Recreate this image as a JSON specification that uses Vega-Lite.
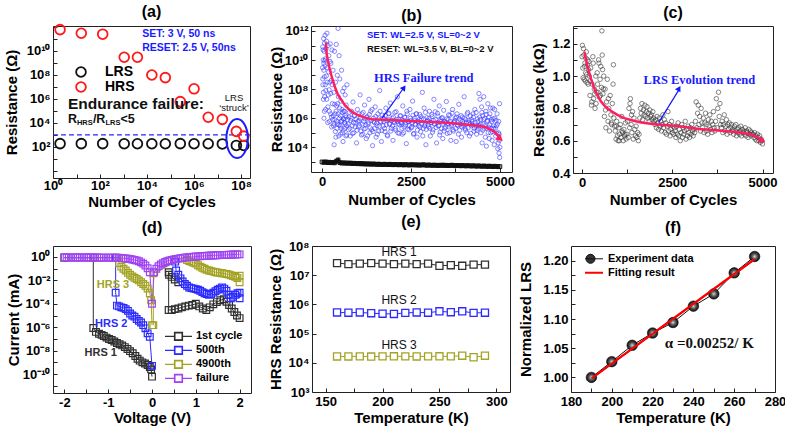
{
"$schema": "https://vega.github.io/schema/vega-lite/v6.json",
"padding": {"left": 3, "top": 3, "right": 0, "bottom": 0},
"spacing": 3,
"resolve": {"scale": {"color": "independent", "stroke": "independent"}, "legend": {"color": "independent", "stroke": "independent"}},
"config": {
  "font": "Liberation Sans",
  "view": {"stroke": "#222222", "strokeWidth": 1},
  "axis": {"domain": false, "grid": false, "tickSize": -4, "tickColor": "#222222", "tickWidth": 1, "labelPadding": 7, "labelFont": "Liberation Sans", "labelFontSize": 13, "labelFontWeight": "bold", "labelColor": "#000000", "labelFlush": false, "labelOverlap": false, "titleFont": "Liberation Sans", "titleFontSize": 15, "titleFontWeight": "bold", "titleColor": "#000000", "titleBaseline": "middle"},
  "title": {"font": "Liberation Sans", "fontSize": 16, "fontWeight": "bold", "color": "#000000", "baseline": "alphabetic"},
  "legend": {"labelFont": "Liberation Sans", "labelFontWeight": "bold", "labelColor": "#000000", "padding": 0, "rowPadding": 1, "titlePadding": 0}
},
"vconcat": [
{"hconcat": [
{
 "title": {"text": "(a)", "offset": 1},
 "width": 197, "height": 152,
 "encoding": {
  "x": {"field": "x", "type": "quantitative", "scale": {"type": "log", "domain": [1, 2.4e8], "nice": false},
        "axis": {"title": "Number of Cycles", "titleY": 23, "labelPadding": 5, "values": [1,10,100,1000,10000,100000,1000000,10000000,100000000],
                 "labelExpr": "round(log(datum.value)/LN10) % 2 == 0 ? '10' + replace(replace(replace(replace(replace(replace(replace(replace(replace(replace(replace('' + round(log(datum.value) / LN10), '-', '⁻'), '0', '⁰'), '1', '¹'), '2', '²'), '3', '³'), '4', '⁴'), '5', '⁵'), '6', '⁶'), '7', '⁷'), '8', '⁸'), '9', '⁹') : ''"}},
  "y": {"field": "y", "type": "quantitative", "scale": {"type": "log", "domain": [0.26, 1.2e12], "nice": false},
        "axis": {"title": "Resistance (Ω)", "titleX": -42, "values": [1,10,100,1000,10000,100000,1000000,10000000,100000000,1000000000,10000000000,100000000000,1000000000000],
                 "labelExpr": "(datum.value > 50 && datum.value < 2e10 && round(log(datum.value)/LN10) % 2 == 0) ? '10' + replace(replace(replace(replace(replace(replace(replace(replace(replace(replace(replace('' + round(log(datum.value) / LN10), '-', '⁻'), '0', '⁰'), '1', '¹'), '2', '²'), '3', '³'), '4', '⁴'), '5', '⁵'), '6', '⁶'), '7', '⁷'), '8', '⁸'), '9', '⁹') : ''"}}
 },
 "layer": [
  {"data": {"values": [{"x": 1, "y": 1000}, {"x": 2.4e8, "y": 1000}]},
   "mark": {"type": "line", "color": "#2a2aff", "strokeDash": [5, 3], "strokeWidth": 1.2}},
  {"data": {"values": [
    {"s":"LRS","x":2,"y":190},{"s":"LRS","x":16,"y":190},{"s":"LRS","x":130,"y":190},{"s":"LRS","x":1070,"y":185},{"s":"LRS","x":3900,"y":185},{"s":"LRS","x":16000,"y":185},{"s":"LRS","x":60000,"y":185},{"s":"LRS","x":260000,"y":190},{"s":"LRS","x":1000000,"y":185},{"s":"LRS","x":4000000,"y":185},{"s":"LRS","x":16000000,"y":180},{"s":"LRS","x":63000000,"y":135},{"s":"LRS","x":130000000,"y":135},
    {"s":"HRS","x":2,"y":6e11},{"s":"HRS","x":16,"y":3e11},{"s":"HRS","x":130,"y":2.5e11},{"s":"HRS","x":1070,"y":3e9},{"s":"HRS","x":3900,"y":3e9},{"s":"HRS","x":16000,"y":1e8},{"s":"HRS","x":60000,"y":6e7},{"s":"HRS","x":260000,"y":6e5},{"s":"HRS","x":1000000,"y":7e6},{"s":"HRS","x":4000000,"y":3e4},{"s":"HRS","x":16000000,"y":2e4},{"s":"HRS","x":63000000,"y":2000},{"s":"HRS","x":130000000,"y":800}]},
   "mark": {"type": "point", "shape": "circle", "filled": false, "size": 95, "strokeWidth": 1.8, "opacity": 1},
   "encoding": {"color": {"field": "s", "type": "nominal", "scale": {"domain": ["LRS", "HRS"], "range": ["#111111", "#ff1a1a"]},
     "legend": {"orient": "none", "legendX": 21, "legendY": 39, "title": null, "labelFontSize": 14, "clipHeight": 14, "symbolSize": 95, "symbolStrokeWidth": 1.8, "labelOffset": 17}}}},
  {"data": {"values": [{"x": 6.8e7, "y": 500}]},
   "mark": {"type": "point", "shape": "M0,-1A0.55,1,0,1,1,0,1A0.55,1,0,1,1,0,-1Z", "size": 1521, "filled": false, "color": "#1c1cff", "strokeWidth": 2, "opacity": 1}},
  {"data": {"values": [{"x": 6200, "y": 2.6e11, "t": "SET: 3 V, 50 ns"}, {"x": 6200, "y": 1.8e10, "t": "RESET: 2.5 V, 50ns"}]},
   "mark": {"type": "text", "align": "left", "baseline": "middle", "fontSize": 10.5, "fontWeight": "bold", "color": "#1a1aff"},
   "encoding": {"text": {"field": "t"}}},
  {"data": {"values": [{"x": 4.3, "y": 3.8e5, "t": "Endurance failure:"}]},
   "mark": {"type": "text", "align": "left", "baseline": "middle", "fontSize": 15.5, "fontWeight": "bold", "color": "#111111"},
   "encoding": {"text": {"field": "t"}}},
  {"data": {"values": [{"x": 4.3, "y": 2.1e4}]},
   "layer": [
    {"mark": {"type": "text", "align": "left", "baseline": "middle", "fontSize": 12.5, "fontWeight": "bold", "color": "#111111"}, "encoding": {"text": {"value": "R"}}},
    {"mark": {"type": "text", "align": "left", "baseline": "middle", "fontSize": 7.5, "fontWeight": "bold", "color": "#111111", "dx": 9, "dy": 4}, "encoding": {"text": {"value": "HRS"}}},
    {"mark": {"type": "text", "align": "left", "baseline": "middle", "fontSize": 12.5, "fontWeight": "bold", "color": "#111111", "dx": 25}, "encoding": {"text": {"value": "/R"}}},
    {"mark": {"type": "text", "align": "left", "baseline": "middle", "fontSize": 7.5, "fontWeight": "bold", "color": "#111111", "dx": 37.5, "dy": 4}, "encoding": {"text": {"value": "LRS"}}},
    {"mark": {"type": "text", "align": "left", "baseline": "middle", "fontSize": 12.5, "fontWeight": "bold", "color": "#111111", "dx": 52.5}, "encoding": {"text": {"value": "<5"}}}
   ]},
  {"data": {"values": [{"x": 5e7, "y": 1.2e6, "t": "LRS"}, {"x": 5e7, "y": 1.8e5, "t": "‘struck’"}]},
   "mark": {"type": "text", "align": "center", "baseline": "middle", "fontSize": 9.5, "color": "#111111"},
   "encoding": {"text": {"field": "t"}}}
 ]
},
{
 "title": {"text": "(b)", "offset": 1},
 "width": 201, "height": 146,
 "encoding": {
  "x": {"field": "x", "type": "quantitative", "scale": {"domain": [-310, 5340], "nice": false, "zero": false},
        "axis": {"title": "Number of Cycles", "titleY": 27, "values": [0, 1250, 2500, 3750, 5000], "format": "d", "labelExpr": "datum.value % 2500 == 0 ? datum.label : ''"}},
  "y": {"field": "y", "type": "quantitative", "scale": {"type": "log", "domain": [200, 2.2e12], "nice": false},
        "axis": {"title": "Resistance (Ω)", "titleX": -35, "values": [1000,10000,100000,1000000,10000000,100000000,1000000000,10000000000,100000000000,1000000000000],
                 "labelExpr": "(datum.value > 5000 && round(log(datum.value)/LN10) % 2 == 0) ? '10' + replace(replace(replace(replace(replace(replace(replace(replace(replace(replace(replace('' + round(log(datum.value) / LN10), '-', '⁻'), '0', '⁰'), '1', '¹'), '2', '²'), '3', '³'), '4', '⁴'), '5', '⁵'), '6', '⁶'), '7', '⁷'), '8', '⁸'), '9', '⁹') : ''"}}
 },
 "layer": [
  {"data": {"values": [
{"x":15,"y":3e9},{"x":20,"y":8e10},{"x":25,"y":2e8},{"x":30,"y":5e10},{"x":35,"y":1e10},{"x":40,"y":6e7},{"x":45,"y":3e11},{"x":50,"y":2e9},{"x":55,"y":1e6},{"x":60,"y":4e10},{"x":65,"y":7e8},{"x":70,"y":1.5e11},{"x":75,"y":3e7},{"x":80,"y":9e9},{"x":85,"y":5e11},{"x":90,"y":2e8},{"x":95,"y":1.2e10},{"x":100,"y":4e6},{"x":110,"y":6e10},{"x":120,"y":8e8},{"x":130,"y":2e7},{"x":140,"y":7e11},{"x":150,"y":3e9},{"x":160,"y":5e5},{"x":170,"y":1e11},{"x":180,"y":4e7},{"x":190,"y":2e10},{"x":200,"y":9e7},{"x":210,"y":6e5},{"x":220,"y":3e8},{"x":230,"y":1.3e11},{"x":240,"y":2e6},{"x":250,"y":6e9},{"x":260,"y":4e8},{"x":270,"y":2.5e5},{"x":280,"y":5e10},{"x":290,"y":1e7},{"x":300,"y":8e5},
{"x":22,"y":5e8},{"x":38,"y":2e7},{"x":52,"y":6e9},{"x":68,"y":3e6},{"x":88,"y":4e9},{"x":105,"y":8e7},{"x":125,"y":2e11},{"x":145,"y":3e8},{"x":165,"y":6e6},{"x":185,"y":1.5e9},{"x":205,"y":3e6},{"x":225,"y":8e9},{"x":245,"y":5e7},{"x":265,"y":1.2e6},{"x":285,"y":2e8},
{"x":310,"y":2e9},{"x":320,"y":3e5},{"x":330,"y":6e7},{"x":340,"y":1.5e4},{"x":350,"y":4e10},{"x":360,"y":8e5},{"x":370,"y":2e6},{"x":380,"y":3e8},{"x":390,"y":5e4},{"x":400,"y":1.2e11},{"x":410,"y":7e6},{"x":420,"y":2e5},{"x":430,"y":9e8},{"x":440,"y":4e5},{"x":450,"y":1.5e12},{"x":460,"y":3e7},{"x":470,"y":6e4},{"x":480,"y":2e10},{"x":490,"y":1e6},{"x":500,"y":5e8},{"x":510,"y":3e5},{"x":520,"y":8e4},{"x":530,"y":1.5e7},{"x":540,"y":6e5},{"x":550,"y":2e9},{"x":560,"y":4e6},{"x":570,"y":1e5},{"x":580,"y":7e7},{"x":590,"y":2.5e4},{"x":600,"y":9e5},{"x":610,"y":3e6},{"x":620,"y":1.2e8},{"x":630,"y":5e5},{"x":640,"y":2e5},{"x":650,"y":4e7},{"x":660,"y":1.5e6},{"x":670,"y":6e4},{"x":680,"y":8e6},{"x":690,"y":3e5},{"x":700,"y":2e8},
{"x":315,"y":1.5e6},{"x":335,"y":4e5},{"x":355,"y":9e6},{"x":375,"y":1.2e5},{"x":395,"y":3e6},{"x":415,"y":6e5},{"x":435,"y":1e7},{"x":455,"y":2e6},{"x":475,"y":3.5e5},{"x":495,"y":5e6},{"x":515,"y":1.5e6},{"x":535,"y":2e5},{"x":555,"y":7e5},{"x":575,"y":2.5e6},{"x":595,"y":1.5e5},{"x":615,"y":9e5},{"x":635,"y":3e6},{"x":655,"y":4e5},{"x":675,"y":1.2e6},{"x":695,"y":7e4},
{"x":720,"y":8e5},{"x":745,"y":1.6e5},{"x":770,"y":2.5e6},{"x":795,"y":6e4},{"x":820,"y":1e6},{"x":845,"y":3e5},{"x":870,"y":1.3e7},{"x":895,"y":1e5},{"x":920,"y":1.6e6},{"x":945,"y":5e5},
{"x":970,"y":2e4},{"x":995,"y":4e6},{"x":1020,"y":2.5e5},{"x":1045,"y":7e5},{"x":1070,"y":4e7},{"x":1095,"y":1.3e5},{"x":1120,"y":2e6},{"x":1145,"y":8e4},{"x":1170,"y":6e5},{"x":1195,"y":8e6},
{"x":1220,"y":2e5},{"x":1245,"y":4e4},{"x":1270,"y":1.3e6},{"x":1295,"y":4e5},{"x":1320,"y":2e7},{"x":1345,"y":1e5},{"x":1370,"y":3e6},{"x":1395,"y":1.6e5},{"x":1420,"y":1.3e4},{"x":1445,"y":1e6},
{"x":1470,"y":5e5},{"x":1495,"y":6e6},{"x":1520,"y":5e4},{"x":1545,"y":3e5},{"x":1570,"y":2e6},{"x":1595,"y":1.3e5},{"x":1620,"y":8e7},{"x":1645,"y":6e5},{"x":1670,"y":2.5e4},{"x":1695,"y":1.6e6},
{"x":1720,"y":3e5},{"x":1745,"y":9e5},{"x":1770,"y":1.2e5},{"x":1795,"y":5e6},{"x":1820,"y":7e5},{"x":1845,"y":6e4},{"x":1870,"y":2e6},{"x":1895,"y":4e5},{"x":1920,"y":1.1e7},{"x":1945,"y":2e5},
{"x":1970,"y":1e6},{"x":1995,"y":3e4},{"x":2020,"y":6e5},{"x":2045,"y":2.5e6},{"x":2070,"y":1.5e5},{"x":2095,"y":8e5},{"x":2120,"y":3e7},{"x":2145,"y":4e5},{"x":2170,"y":9e4},{"x":2195,"y":1.4e6},
{"x":2220,"y":5e5},{"x":2245,"y":2e5},{"x":2270,"y":7e6},{"x":2295,"y":1e5},{"x":2320,"y":1.2e6},{"x":2345,"y":3.5e5},{"x":2370,"y":1.8e4},{"x":2395,"y":2e6},{"x":2420,"y":6e5},{"x":2445,"y":1.6e5},
{"x":2470,"y":4e6},{"x":2495,"y":7e5},{"x":2520,"y":2.5e5},{"x":2545,"y":1.5e7},{"x":2570,"y":8e4},{"x":2595,"y":1e6},{"x":2620,"y":4e5},{"x":2645,"y":2e6},{"x":2670,"y":5e4},{"x":2695,"y":6e5},
{"x":2720,"y":3e5},{"x":2745,"y":1.8e6},{"x":2770,"y":1.2e5},{"x":2795,"y":9e5},{"x":2820,"y":6e7},{"x":2845,"y":2e5},{"x":2870,"y":5e6},{"x":2895,"y":4e5},{"x":2920,"y":1.5e4},{"x":2945,"y":1.1e6},
{"x":2970,"y":7e5},{"x":2995,"y":2.5e5},{"x":3020,"y":3e6},{"x":3045,"y":6e4},{"x":3070,"y":5e5},{"x":3095,"y":1.3e6},{"x":3120,"y":1.6e5},{"x":3145,"y":2e7},{"x":3170,"y":4e5},{"x":3195,"y":8e5},
{"x":3220,"y":2e4},{"x":3245,"y":2.2e6},{"x":3270,"y":3e5},{"x":3295,"y":7e6},{"x":3320,"y":1.1e5},{"x":3345,"y":6e5},{"x":3370,"y":1e6},{"x":3395,"y":4e4},{"x":3420,"y":3.5e6},{"x":3445,"y":2e5},
{"x":3470,"y":5e5},{"x":3495,"y":1.4e7},{"x":3520,"y":9e4},{"x":3545,"y":8e5},{"x":3570,"y":2.5e5},{"x":3595,"y":1.6e6},{"x":3620,"y":3e4},{"x":3645,"y":4e5},{"x":3670,"y":4e6},{"x":3695,"y":1.3e5},
{"x":3720,"y":6e5},{"x":3745,"y":1e6},{"x":3770,"y":2.5e4},{"x":3795,"y":2e6},{"x":3820,"y":3e5},{"x":3845,"y":9e6},{"x":3870,"y":1.5e5},{"x":3895,"y":7e5},{"x":3920,"y":5e4},{"x":3945,"y":1.2e6},
{"x":3970,"y":4e5},{"x":3995,"y":3e7},{"x":4020,"y":2e5},{"x":4045,"y":8e5},{"x":4070,"y":1e5},{"x":4095,"y":2.5e6},{"x":4120,"y":5e5},{"x":4145,"y":6e4},{"x":4170,"y":1.5e6},{"x":4195,"y":3e5},
{"x":4220,"y":6e5},{"x":4245,"y":2e6},{"x":4270,"y":1.3e5},{"x":4295,"y":4e6},{"x":4320,"y":3e5},{"x":4345,"y":8e4},{"x":4370,"y":9e5},{"x":4395,"y":2e5},
{"x":732,"y":4e5},{"x":757,"y":1.2e6},{"x":782,"y":2e5},{"x":807,"y":7e5},{"x":832,"y":3e6},{"x":857,"y":9e4},{"x":882,"y":5e5},{"x":907,"y":1.5e6},{"x":932,"y":2.5e5},{"x":957,"y":8e5},
{"x":982,"y":1.5e5},{"x":1007,"y":6e5},{"x":1032,"y":2e6},{"x":1057,"y":3e5},{"x":1082,"y":1e6},{"x":1107,"y":7e4},{"x":1132,"y":4e5},{"x":1157,"y":2.5e6},{"x":1182,"y":1.8e5},{"x":1207,"y":9e5},
{"x":1232,"y":3.5e5},{"x":1257,"y":1.1e6},{"x":1282,"y":6e4},{"x":1307,"y":5e5},{"x":1332,"y":1.8e6},{"x":1357,"y":2.2e5},{"x":1382,"y":7e5},{"x":1407,"y":4e6},{"x":1432,"y":1.2e5},{"x":1457,"y":6e5},
{"x":1482,"y":2e5},{"x":1507,"y":1.3e6},{"x":1532,"y":4.5e5},{"x":1557,"y":8e4},{"x":1582,"y":9e5},{"x":1607,"y":2.8e5},{"x":1632,"y":3e6},{"x":1657,"y":5.5e5},{"x":1682,"y":1.4e5},{"x":1707,"y":1e6},
{"x":1732,"y":6e5},{"x":1757,"y":2e5},{"x":1782,"y":1.6e6},{"x":1807,"y":3.5e5},{"x":1832,"y":7e4},{"x":1857,"y":8e5},{"x":1882,"y":2.2e6},{"x":1907,"y":4e5},{"x":1932,"y":1.3e5},{"x":1957,"y":7e5},
{"x":1982,"y":3e5},{"x":2007,"y":1.2e6},{"x":2032,"y":5e5},{"x":2057,"y":2e5},{"x":2082,"y":2.8e6},{"x":2107,"y":6e5},{"x":2132,"y":1e5},{"x":2157,"y":9e5},{"x":2182,"y":3.5e5},{"x":2207,"y":1.5e6},
{"x":2232,"y":4.5e5},{"x":2257,"y":8e4},{"x":2282,"y":7e5},{"x":2307,"y":2.5e5},{"x":2332,"y":1.1e6},{"x":2357,"y":5e5},{"x":2382,"y":3e6},{"x":2407,"y":1.8e5},{"x":2432,"y":6e5},{"x":2457,"y":3e5},
{"x":2482,"y":1e6},{"x":2507,"y":2.2e5},{"x":2532,"y":5e5},{"x":2557,"y":1.6e6},{"x":2582,"y":9e4},{"x":2607,"y":7e5},{"x":2632,"y":3.5e5},{"x":2657,"y":2e6},{"x":2682,"y":1.5e5},{"x":2707,"y":5.5e5},
{"x":2732,"y":8e5},{"x":2757,"y":2.5e5},{"x":2782,"y":1.3e6},{"x":2807,"y":4e5},{"x":2832,"y":6e4},{"x":2857,"y":9e5},{"x":2882,"y":3e5},{"x":2907,"y":2.5e6},{"x":2932,"y":1.7e5},{"x":2957,"y":6e5},
{"x":2982,"y":3.5e5},{"x":3007,"y":1e6},{"x":3032,"y":2e5},{"x":3057,"y":5e5},{"x":3082,"y":1.8e6},{"x":3107,"y":1.1e5},{"x":3132,"y":7e5},{"x":3157,"y":4e5},{"x":3182,"y":2.8e6},{"x":3207,"y":2.3e5},
{"x":3232,"y":5e5},{"x":3257,"y":1.4e6},{"x":3282,"y":3e5},{"x":3307,"y":7e4},{"x":3332,"y":8e5},{"x":3357,"y":2e5},{"x":3382,"y":1.1e6},{"x":3407,"y":4.5e5},{"x":3432,"y":1.3e5},{"x":3457,"y":6e5},
{"x":3482,"y":2.5e5},{"x":3507,"y":9e5},{"x":3532,"y":4e5},{"x":3557,"y":1.7e6},{"x":3582,"y":1e5},{"x":3607,"y":6e5},{"x":3632,"y":3e5},{"x":3657,"y":2.2e6},{"x":3682,"y":1.6e5},{"x":3707,"y":5e5},
{"x":3732,"y":7e5},{"x":3757,"y":2e5},{"x":3782,"y":1.2e6},{"x":3807,"y":3.5e5},{"x":3832,"y":8e4},{"x":3857,"y":9e5},{"x":3882,"y":4e5},{"x":3907,"y":1.5e6},{"x":3932,"y":2.5e5},{"x":3957,"y":6e5},
{"x":3982,"y":3e5},{"x":4007,"y":1e6},{"x":4032,"y":1.5e5},{"x":4057,"y":5e5},{"x":4082,"y":2e6},{"x":4107,"y":2.2e5},{"x":4132,"y":7e5},{"x":4157,"y":4e5},{"x":4182,"y":9e4},{"x":4207,"y":8e5},
{"x":4232,"y":3.5e5},{"x":4257,"y":1.2e6},{"x":4282,"y":2e5},{"x":4307,"y":5e5},{"x":4332,"y":2.5e6},{"x":4357,"y":1.5e5},{"x":4382,"y":6e5},{"x":4407,"y":3e5},
{"x":4410,"y":5e7},{"x":4425,"y":3e5},{"x":4440,"y":2e7},{"x":4455,"y":8e5},{"x":4470,"y":1e5},{"x":4485,"y":6e6},{"x":4500,"y":2e4},{"x":4515,"y":1.5e6},{"x":4530,"y":4e5},{"x":4545,"y":3e7},{"x":4560,"y":2e5},{"x":4575,"y":1e6},{"x":4590,"y":5e4},{"x":4605,"y":3e6},{"x":4620,"y":1.2e4},{"x":4640,"y":6e5},{"x":4660,"y":1e7},{"x":4680,"y":2.5e5},{"x":4700,"y":4e4},{"x":4720,"y":2e6},{"x":4740,"y":1e5},{"x":4760,"y":8e5},{"x":4780,"y":3e4},{"x":4800,"y":5e6},{"x":4820,"y":2e5},{"x":4840,"y":1.5e4},{"x":4860,"y":1e6},{"x":4880,"y":6e4},{"x":4900,"y":3e5},{"x":4920,"y":2e6},{"x":4940,"y":8e3},{"x":4960,"y":1e5},{"x":4975,"y":4e3},{"x":4985,"y":3e4},{"x":4995,"y":2e3},{"x":5000,"y":1e4},{"x":4990,"y":1e7},
{"x":4432,"y":1.2e6},{"x":4462,"y":4e5},{"x":4492,"y":2.5e6},{"x":4522,"y":1.5e5},{"x":4552,"y":8e5},{"x":4582,"y":3e5},{"x":4612,"y":1.8e6},{"x":4632,"y":2e5},{"x":4652,"y":7e5},{"x":4672,"y":1e5},{"x":4692,"y":1.2e6},{"x":4712,"y":3.5e5},{"x":4732,"y":5e6},{"x":4752,"y":2e5},{"x":4772,"y":6e5},{"x":4792,"y":1.2e5},{"x":4812,"y":9e5},{"x":4832,"y":3e5},{"x":4852,"y":4e6},{"x":4872,"y":2e5},{"x":4892,"y":7e5},{"x":4912,"y":9e4},{"x":4932,"y":4e5},{"x":4952,"y":2e4},{"x":4968,"y":6e5},{"x":4980,"y":8e4}
   ]},
   "mark": {"type": "point", "shape": "circle", "filled": false, "size": 18, "strokeWidth": 0.7, "color": "#3a3aff", "opacity": 0.85}},
  {"data": {"name": "lrsb", "values": [
{"x":0,"y":980},{"x":50,"y":920},{"x":100,"y":1000},{"x":150,"y":890},{"x":200,"y":940},{"x":250,"y":870},{"x":300,"y":910},{"x":350,"y":850},{"x":400,"y":1100},{"x":450,"y":1350},{"x":500,"y":880},{"x":550,"y":820},{"x":600,"y":860},{"x":650,"y":800},{"x":700,"y":840},{"x":750,"y":790},{"x":800,"y":830},{"x":850,"y":760},{"x":900,"y":800},{"x":950,"y":770},{"x":1000,"y":740},{"x":1050,"y":780},{"x":1100,"y":720},{"x":1150,"y":760},{"x":1200,"y":700},{"x":1250,"y":740},{"x":1300,"y":690},{"x":1350,"y":730},{"x":1400,"y":680},{"x":1450,"y":720},{"x":1500,"y":690},{"x":1550,"y":660},{"x":1600,"y":700},{"x":1650,"y":670},{"x":1700,"y":650},{"x":1750,"y":690},{"x":1800,"y":660},{"x":1850,"y":640},{"x":1900,"y":680},{"x":1950,"y":650},{"x":2000,"y":630},{"x":2050,"y":670},{"x":2100,"y":640},{"x":2150,"y":620},{"x":2200,"y":660},{"x":2250,"y":630},{"x":2300,"y":610},{"x":2350,"y":650},{"x":2400,"y":620},{"x":2450,"y":600},{"x":2500,"y":640},{"x":2550,"y":610},{"x":2600,"y":630},{"x":2650,"y":600},{"x":2700,"y":620},{"x":2750,"y":590},{"x":2800,"y":610},{"x":2850,"y":630},{"x":2900,"y":600},{"x":2950,"y":580},{"x":3000,"y":610},{"x":3050,"y":590},{"x":3100,"y":570},{"x":3150,"y":600},{"x":3200,"y":580},{"x":3250,"y":560},{"x":3300,"y":590},{"x":3350,"y":570},{"x":3400,"y":600},{"x":3450,"y":560},{"x":3500,"y":580},{"x":3550,"y":550},{"x":3600,"y":570},{"x":3650,"y":590},{"x":3700,"y":560},{"x":3750,"y":540},{"x":3800,"y":570},{"x":3850,"y":550},{"x":3900,"y":530},{"x":3950,"y":560},{"x":4000,"y":540},{"x":4050,"y":520},{"x":4100,"y":550},{"x":4150,"y":530},{"x":4200,"y":510},{"x":4250,"y":540},{"x":4300,"y":520},{"x":4350,"y":500},{"x":4400,"y":530},{"x":4450,"y":510},{"x":4500,"y":490},{"x":4550,"y":520},{"x":4600,"y":500},{"x":4650,"y":480},{"x":4700,"y":510},{"x":4750,"y":490},{"x":4800,"y":470},{"x":4850,"y":500},{"x":4900,"y":480},{"x":4950,"y":460},{"x":5000,"y":470}
   ]},
   "mark": {"type": "line", "color": "#111111", "strokeWidth": 3.5}},
  {"data": {"name": "lrsb"},
   "mark": {"type": "point", "shape": "square", "filled": false, "size": 14, "strokeWidth": 1, "color": "#111111", "opacity": 1}},
  {"data": {"values": [
{"x":112,"y":1.6e11},{"x":131,"y":2.5e10},{"x":180,"y":6e9},{"x":225,"y":1.9e9},{"x":290,"y":5e8},{"x":365,"y":1.35e8},{"x":450,"y":4e7},{"x":553,"y":1.7e7},{"x":640,"y":8e6},{"x":740,"y":4.5e6},{"x":870,"y":2.5e6},{"x":1020,"y":1.6e6},{"x":1200,"y":1.1e6},{"x":1396,"y":8.5e5},{"x":1770,"y":7.8e5},{"x":2331,"y":6.8e5},{"x":2900,"y":5.8e5},{"x":3400,"y":5e5},{"x":3736,"y":4.3e5},{"x":4100,"y":3.6e5},{"x":4400,"y":3e5},{"x":4579,"y":2.5e5},{"x":4750,"y":1.6e5},{"x":4860,"y":1.1e5},{"x":4950,"y":6e4},{"x":4990,"y":4.5e4}
   ]},
   "mark": {"type": "line", "color": "#ff1f5e", "strokeWidth": 2.5}},
  {"data": {"values": [{"x": 5010, "y": 3.8e4}]},
   "mark": {"type": "point", "shape": "triangle-up", "angle": 130, "size": 60, "filled": true, "color": "#ff1f5e", "opacity": 1}},
  {"data": {"values": [{"x": 1685, "y": 1e6}, {"x": 2290, "y": 1.15e8}]},
   "mark": {"type": "line", "color": "#1515ff", "strokeWidth": 1.2}},
  {"data": {"values": [{"x": 2303, "y": 1.26e8}]},
   "mark": {"type": "point", "shape": "triangle-up", "angle": 35, "size": 40, "filled": true, "color": "#1515ff", "opacity": 1}},
  {"data": {"values": [{"x": 1264, "y": 5.4e11, "t": "SET: WL=2.5 V, SL=0~2 V"}]},
   "mark": {"type": "text", "align": "left", "baseline": "middle", "fontSize": 9.5, "fontWeight": "bold", "color": "#1a1aff"},
   "encoding": {"text": {"field": "t"}}},
  {"data": {"values": [{"x": 1264, "y": 5.9e10, "t": "RESET: WL=3.5 V, BL=0~2 V"}]},
   "mark": {"type": "text", "align": "left", "baseline": "middle", "fontSize": 9.5, "fontWeight": "bold", "color": "#111111"},
   "encoding": {"text": {"field": "t"}}},
  {"data": {"values": [{"x": 1461, "y": 6.3e8, "t": "HRS Failure trend"}]},
   "mark": {"type": "text", "align": "left", "baseline": "middle", "fontSize": 12.5, "fontWeight": "bold", "font": "Liberation Serif", "color": "#1a1aff"},
   "encoding": {"text": {"field": "t"}}}
 ]
},
{
 "title": {"text": "(c)", "offset": 1},
 "width": 200, "height": 147,
 "encoding": {
  "x": {"field": "x", "type": "quantitative", "scale": {"domain": [-250, 5290], "nice": false, "zero": false},
        "axis": {"title": "Number of Cycles", "titleY": 26, "values": [0, 1250, 2500, 3750, 5000], "format": "d", "labelExpr": "datum.value % 2500 == 0 ? datum.label : ''"}},
  "y": {"field": "y", "type": "quantitative", "scale": {"domain": [0.4, 1.31], "nice": false, "zero": false},
        "axis": {"title": "Resistance (kΩ)", "titleX": -35, "values": [0.4,0.5,0.6,0.7,0.8,0.9,1.0,1.1,1.2,1.3], "labelExpr": "round(datum.value*10) % 2 == 0 ? format(datum.value, '.1f') : ''"}}
 },
 "layer": [
  {"data": {"values": [
{"x":0,"y":1.12},{"x":20,"y":1.05},{"x":40,"y":1.17},{"x":60,"y":0.98},{"x":80,"y":1.08},{"x":100,"y":1.02},{"x":120,"y":1.15},{"x":140,"y":0.96},{"x":160,"y":1.10},{"x":180,"y":1.04},{"x":200,"y":1.00},
{"x":10,"y":1.19},{"x":30,"y":0.99},{"x":50,"y":1.13},{"x":70,"y":1.06},{"x":90,"y":0.97},{"x":110,"y":1.11},{"x":130,"y":1.01},{"x":150,"y":1.07},{"x":170,"y":0.95},{"x":190,"y":1.09},
{"x":220,"y":0.88},{"x":240,"y":1.05},{"x":260,"y":0.82},{"x":280,"y":0.95},{"x":300,"y":1.12},{"x":320,"y":0.86},{"x":340,"y":0.92},{"x":360,"y":0.80},{"x":380,"y":1.0},{"x":400,"y":0.9},{"x":230,"y":0.97},{"x":270,"y":0.84},{"x":310,"y":1.08},{"x":350,"y":0.89},{"x":390,"y":0.83},
{"x":420,"y":1.02},{"x":440,"y":0.9},{"x":460,"y":1.1},{"x":480,"y":0.87},{"x":500,"y":0.98},{"x":520,"y":1.06},{"x":540,"y":0.93},{"x":560,"y":1.13},{"x":580,"y":0.89},{"x":600,"y":1.0},{"x":430,"y":0.95},{"x":470,"y":1.08},{"x":510,"y":0.88},{"x":550,"y":1.28},{"x":570,"y":1.04},{"x":590,"y":0.92},
{"x":620,"y":0.75},{"x":640,"y":0.92},{"x":660,"y":0.68},{"x":680,"y":0.84},{"x":700,"y":0.98},{"x":720,"y":0.72},{"x":740,"y":0.8},{"x":760,"y":0.66},{"x":780,"y":0.88},{"x":800,"y":0.76},{"x":820,"y":0.7},{"x":840,"y":0.83},{"x":860,"y":0.95},{"x":880,"y":0.74},{"x":900,"y":0.69},{"x":650,"y":0.79},{"x":730,"y":0.86},{"x":810,"y":0.71},{"x":870,"y":1.07},
{"x":920,"y":0.66},{"x":940,"y":0.61},{"x":960,"y":0.72},{"x":980,"y":0.63},{"x":1000,"y":0.6},{"x":1020,"y":0.68},{"x":1040,"y":0.64},{"x":1060,"y":0.7},{"x":1080,"y":0.62},{"x":1100,"y":0.75},{"x":1120,"y":0.65},{"x":1140,"y":0.6},{"x":1160,"y":0.67},{"x":1180,"y":0.63},{"x":1200,"y":0.71},{"x":1220,"y":0.61},{"x":950,"y":0.69},{"x":1030,"y":0.6},{"x":1110,"y":0.66},{"x":1190,"y":0.64},
{"x":1240,"y":0.64},{"x":1260,"y":0.72},{"x":1280,"y":0.62},{"x":1300,"y":0.8},{"x":1320,"y":0.68},{"x":1340,"y":0.86},{"x":1360,"y":0.7},{"x":1380,"y":0.65},{"x":1400,"y":0.78},{"x":1420,"y":0.61},{"x":1440,"y":0.74},{"x":1460,"y":0.67},{"x":1480,"y":0.63},{"x":1500,"y":0.69},{"x":1330,"y":0.83},{"x":1370,"y":0.76},
{"x":1520,"y":0.62},{"x":1540,"y":0.65},{"x":1560,"y":0.6},{"x":1580,"y":0.64},
{"x":1600,"y":0.74},{"x":1620,"y":0.8},{"x":1640,"y":0.77},{"x":1660,"y":0.83},{"x":1680,"y":0.73},{"x":1700,"y":0.79},{"x":1720,"y":0.76},{"x":1740,"y":0.82},{"x":1760,"y":0.75},{"x":1780,"y":0.78},{"x":1800,"y":0.81},{"x":1820,"y":0.74},{"x":1840,"y":0.77},{"x":1860,"y":0.72},{"x":1880,"y":0.79},{"x":1900,"y":0.75},{"x":1920,"y":0.76},{"x":1940,"y":0.73},{"x":1960,"y":0.78},{"x":1980,"y":0.74},{"x":2000,"y":0.72},
{"x":2020,"y":0.7},{"x":2040,"y":0.73},{"x":2060,"y":0.68},{"x":2080,"y":0.75},{"x":2100,"y":0.71},{"x":2120,"y":0.67},{"x":2140,"y":0.74},{"x":2160,"y":0.69},{"x":2180,"y":0.72},{"x":2200,"y":0.66},{"x":2220,"y":0.7},{"x":2240,"y":0.76},{"x":2260,"y":0.68},{"x":2280,"y":0.73},{"x":2300,"y":0.65},{"x":2320,"y":0.71},{"x":2340,"y":0.64},{"x":2360,"y":0.69},{"x":2380,"y":0.78},{"x":2400,"y":0.66},{"x":2420,"y":0.7},{"x":2440,"y":0.63},{"x":2460,"y":0.67},{"x":2480,"y":0.72},{"x":2500,"y":0.65},{"x":2520,"y":0.69},{"x":2540,"y":0.64},{"x":2560,"y":0.68},
{"x":2580,"y":0.66},{"x":2600,"y":0.62},{"x":2620,"y":0.69},{"x":2640,"y":0.64},{"x":2660,"y":0.71},{"x":2680,"y":0.63},{"x":2700,"y":0.67},{"x":2720,"y":0.6},{"x":2740,"y":0.65},{"x":2760,"y":0.7},{"x":2780,"y":0.62},{"x":2800,"y":0.68},{"x":2820,"y":0.64},{"x":2840,"y":0.66},{"x":2860,"y":0.72},{"x":2880,"y":0.61},{"x":2900,"y":0.67},{"x":2920,"y":0.63},{"x":2940,"y":0.69},{"x":2960,"y":0.65},{"x":2980,"y":0.62},{"x":3000,"y":0.68},{"x":3020,"y":0.64},{"x":3040,"y":0.7},{"x":3060,"y":0.66},{"x":3080,"y":0.63},{"x":3100,"y":0.67},{"x":3120,"y":0.65},
{"x":3140,"y":0.72},{"x":3160,"y":0.84},{"x":3180,"y":0.68},{"x":3200,"y":0.77},{"x":3220,"y":0.82},{"x":3240,"y":0.7},{"x":3260,"y":0.75},{"x":3280,"y":0.66},{"x":3300,"y":0.8},{"x":3320,"y":0.71},
{"x":3340,"y":0.68},{"x":3360,"y":0.74},{"x":3380,"y":0.65},{"x":3400,"y":0.71},{"x":3420,"y":0.77},{"x":3440,"y":0.66},{"x":3460,"y":0.7},{"x":3480,"y":0.64},{"x":3500,"y":0.73},{"x":3520,"y":0.69},{"x":3540,"y":0.76},{"x":3560,"y":0.67},{"x":3580,"y":0.72},{"x":3600,"y":0.65},{"x":3620,"y":0.7},{"x":3640,"y":0.78},{"x":3660,"y":0.68},{"x":3680,"y":0.66},
{"x":3700,"y":0.72},{"x":3720,"y":0.86},{"x":3740,"y":0.68},{"x":3760,"y":0.8},{"x":3780,"y":0.9},{"x":3800,"y":0.75},{"x":3820,"y":0.83},{"x":3840,"y":0.7},
{"x":3860,"y":0.68},{"x":3880,"y":0.72},{"x":3900,"y":0.65},{"x":3920,"y":0.7},{"x":3940,"y":0.76},{"x":3960,"y":0.66},{"x":3980,"y":0.69},{"x":4000,"y":0.73},{"x":4020,"y":0.64},{"x":4040,"y":0.7},{"x":4060,"y":0.67},{"x":4080,"y":0.71},{"x":4100,"y":0.65},{"x":4120,"y":0.68},{"x":4140,"y":0.7},{"x":4160,"y":0.66},
{"x":4180,"y":0.67},{"x":4200,"y":0.64},{"x":4220,"y":0.69},{"x":4240,"y":0.66},{"x":4260,"y":0.7},{"x":4280,"y":0.63},{"x":4300,"y":0.67},{"x":4320,"y":0.65},{"x":4340,"y":0.68},{"x":4360,"y":0.64},{"x":4380,"y":0.66},{"x":4400,"y":0.69},{"x":4420,"y":0.63},{"x":4440,"y":0.67},{"x":4460,"y":0.65},{"x":4480,"y":0.66},{"x":4500,"y":0.64},{"x":4520,"y":0.68},{"x":4540,"y":0.63},{"x":4560,"y":0.66},{"x":4580,"y":0.65},{"x":4600,"y":0.62},{"x":4620,"y":0.67},{"x":4640,"y":0.64},{"x":4660,"y":0.66},{"x":4680,"y":0.63},{"x":4700,"y":0.65},{"x":4720,"y":0.64},
{"x":4740,"y":0.64},{"x":4760,"y":0.62},{"x":4780,"y":0.65},{"x":4800,"y":0.61},{"x":4820,"y":0.63},{"x":4840,"y":0.6},{"x":4860,"y":0.64},{"x":4880,"y":0.62},{"x":4900,"y":0.6},{"x":4920,"y":0.63},{"x":4940,"y":0.59},{"x":4960,"y":0.61},{"x":4980,"y":0.6},{"x":5000,"y":0.58}
   ]},
   "mark": {"type": "point", "shape": "circle", "filled": false, "size": 20, "strokeWidth": 0.7, "color": "#333333", "opacity": 0.85}},
  {"data": {"values": [
{"x":67,"y":1.15},{"x":120,"y":1.09},{"x":188,"y":1.03},{"x":260,"y":0.975},{"x":329,"y":0.93},{"x":420,"y":0.885},{"x":516,"y":0.846},{"x":650,"y":0.81},{"x":797,"y":0.785},{"x":980,"y":0.76},{"x":1171,"y":0.74},{"x":1400,"y":0.725},{"x":1640,"y":0.713},{"x":1900,"y":0.705},{"x":2202,"y":0.698},{"x":2700,"y":0.69},{"x":3231,"y":0.672},{"x":3700,"y":0.664},{"x":4168,"y":0.655},{"x":4400,"y":0.649},{"x":4635,"y":0.641},{"x":4800,"y":0.628},{"x":4916,"y":0.612},{"x":4980,"y":0.603}
   ]},
   "mark": {"type": "line", "color": "#ff1f5e", "strokeWidth": 2.5}},
  {"data": {"values": [{"x": 5000, "y": 0.6}]},
   "mark": {"type": "point", "shape": "triangle-up", "angle": 117, "size": 50, "filled": true, "color": "#ff1f5e", "opacity": 1}},
  {"data": {"values": [{"x": 2126, "y": 0.713}, {"x": 2670, "y": 0.91}]},
   "mark": {"type": "line", "color": "#1515ff", "strokeWidth": 1.2}},
  {"data": {"values": [{"x": 2688, "y": 0.924}]},
   "mark": {"type": "point", "shape": "triangle-up", "angle": 30, "size": 40, "filled": true, "color": "#1515ff", "opacity": 1}},
  {"data": {"values": [{"x": 1705, "y": 0.974, "t": "LRS Evolution trend"}]},
   "mark": {"type": "text", "align": "left", "baseline": "middle", "fontSize": 12.5, "fontWeight": "bold", "font": "Liberation Serif", "color": "#1a1aff"},
   "encoding": {"text": {"field": "t"}}}
 ]
}
], "spacing": 61, "bounds": "flush", "resolve": {"scale": {"color": "independent", "stroke": "independent"}, "legend": {"color": "independent", "stroke": "independent"}}},
{"hconcat": [
{
 "title": {"text": "(d)", "offset": 10},
 "width": 198, "height": 147,
 "encoding": {
  "x": {"field": "x", "type": "quantitative", "scale": {"domain": [-2.26, 2.26], "nice": false, "zero": false},
        "axis": {"title": "Voltage (V)", "titleY": 24, "values": [-2,-1.5,-1,-0.5,0,0.5,1,1.5,2], "labelExpr": "datum.value % 1 == 0 ? '' + datum.value : ''"}},
  "y": {"field": "y", "type": "quantitative", "scale": {"type": "log", "domain": [2.4e-12, 8.7], "nice": false},
        "axis": {"title": "Current (mA)", "titleX": -40, "values": [1e-11,1e-10,1e-9,1e-8,1e-7,1e-6,1e-5,1e-4,1e-3,1e-2,1e-1,1,10],
                 "labelExpr": "(datum.value > 5e-11 && datum.value < 5 && round(log(datum.value)/LN10) % 2 == 0) ? '10' + replace(replace(replace(replace(replace(replace(replace(replace(replace(replace(replace('' + round(log(datum.value) / LN10), '-', '⁻'), '0', '⁰'), '1', '¹'), '2', '²'), '3', '³'), '4', '⁴'), '5', '⁵'), '6', '⁶'), '7', '⁷'), '8', '⁸'), '9', '⁹') : ''"}},
  "color": {"field": "s", "type": "nominal", "scale": {"domain": ["1st cycle", "500th", "4900th", "failure"], "range": ["#303030", "#2b2bff", "#a3a326", "#a044f2"]},
            "legend": {"orient": "none", "legendX": 111, "legendY": 84, "title": null, "labelFontSize": 11, "clipHeight": 12.7, "rowPadding": 1, "symbolSize": 729, "symbolStrokeWidth": 1.1, "labelOffset": 3, "symbolFillColor": "#ffffff",
                       "symbolType": "M-1,0H-0.3M0.3,0H1M-0.3,-0.3H0.3V0.3H-0.3ZM-0.26,-0.26V0.26H0.26V-0.26Z",
                       "encode": {"symbols": {"update": {"shape": {"value": "M-1,0H-0.3M0.3,0H1M-0.3,-0.3H0.3V0.3H-0.3ZM-0.26,-0.26V0.26H0.26V-0.26Z"}, "fill": {"value": "#ffffff"}}}}}}
 },
 "layer": [
  {"data": {"name": "iv", "values": [
{"s":"1st cycle","p":1,"i":0,"x":-2,"y":0.88},{"s":"1st cycle","p":1,"i":1,"x":-1.34,"y":0.88},{"s":"1st cycle","p":1,"i":2,"x":-1.34,"y":8.5e-7},{"s":"1st cycle","p":1,"i":3,"x":-1.28,"y":4e-7},{"s":"1st cycle","p":1,"i":4,"x":-1.21,"y":2.8e-7},{"s":"1st cycle","p":1,"i":5,"x":-1.15,"y":2.2e-7},{"s":"1st cycle","p":1,"i":6,"x":-1.1,"y":1.8e-7},{"s":"1st cycle","p":1,"i":7,"x":-1.04,"y":1.3e-7},{"s":"1st cycle","p":1,"i":8,"x":-0.98,"y":1e-7},{"s":"1st cycle","p":1,"i":9,"x":-0.92,"y":8e-8},{"s":"1st cycle","p":1,"i":10,"x":-0.86,"y":6e-8},{"s":"1st cycle","p":1,"i":11,"x":-0.8,"y":4.5e-8},{"s":"1st cycle","p":1,"i":12,"x":-0.74,"y":3.5e-8},{"s":"1st cycle","p":1,"i":13,"x":-0.68,"y":2.8e-8},{"s":"1st cycle","p":1,"i":14,"x":-0.62,"y":2e-8},{"s":"1st cycle","p":1,"i":15,"x":-0.56,"y":1.4e-8},{"s":"1st cycle","p":1,"i":16,"x":-0.5,"y":9e-9},{"s":"1st cycle","p":1,"i":17,"x":-0.44,"y":6e-9},{"s":"1st cycle","p":1,"i":18,"x":-0.38,"y":3.5e-9},{"s":"1st cycle","p":1,"i":19,"x":-0.33,"y":2e-9},{"s":"1st cycle","p":1,"i":20,"x":-0.28,"y":1.4e-9},{"s":"1st cycle","p":1,"i":21,"x":-0.22,"y":1e-9},{"s":"1st cycle","p":1,"i":22,"x":-0.16,"y":8e-10},{"s":"1st cycle","p":1,"i":23,"x":-0.1,"y":6e-10},{"s":"1st cycle","p":1,"i":24,"x":-0.05,"y":4e-10},{"s":"1st cycle","p":1,"i":25,"x":-0.02,"y":2.5e-10},{"s":"1st cycle","p":1,"i":26,"x":0,"y":6e-11},
{"s":"1st cycle","p":2,"i":0,"x":0.6,"y":0.007},{"s":"1st cycle","p":2,"i":1,"x":0.52,"y":0.012},{"s":"1st cycle","p":2,"i":2,"x":0.45,"y":0.02},{"s":"1st cycle","p":2,"i":3,"x":0.39,"y":0.03},{"s":"1st cycle","p":2,"i":4,"x":0.38,"y":0.05},{"s":"1st cycle","p":2,"i":5,"x":0.38,"y":3e-5},{"s":"1st cycle","p":2,"i":6,"x":0.45,"y":3e-5},{"s":"1st cycle","p":2,"i":7,"x":0.52,"y":3.5e-5},{"s":"1st cycle","p":2,"i":8,"x":0.6,"y":4e-5},{"s":"1st cycle","p":2,"i":9,"x":0.68,"y":5e-5},{"s":"1st cycle","p":2,"i":10,"x":0.76,"y":6e-5},{"s":"1st cycle","p":2,"i":11,"x":0.84,"y":7e-5},{"s":"1st cycle","p":2,"i":12,"x":0.92,"y":8e-5},{"s":"1st cycle","p":2,"i":13,"x":1.0,"y":1e-4},{"s":"1st cycle","p":2,"i":14,"x":1.08,"y":6e-5},{"s":"1st cycle","p":2,"i":15,"x":1.16,"y":4e-5},{"s":"1st cycle","p":2,"i":16,"x":1.24,"y":3e-5},{"s":"1st cycle","p":2,"i":17,"x":1.32,"y":5e-5},{"s":"1st cycle","p":2,"i":18,"x":1.4,"y":9e-5},{"s":"1st cycle","p":2,"i":19,"x":1.48,"y":1.4e-4},{"s":"1st cycle","p":2,"i":20,"x":1.56,"y":2e-4},{"s":"1st cycle","p":2,"i":21,"x":1.64,"y":2.5e-4},{"s":"1st cycle","p":2,"i":22,"x":1.7,"y":1.5e-4},{"s":"1st cycle","p":2,"i":23,"x":1.76,"y":8e-5},{"s":"1st cycle","p":2,"i":24,"x":1.82,"y":4e-5},{"s":"1st cycle","p":2,"i":25,"x":1.88,"y":2e-5},{"s":"1st cycle","p":2,"i":26,"x":1.94,"y":1e-5},{"s":"1st cycle","p":2,"i":27,"x":2.0,"y":6e-6},
{"s":"500th","p":3,"i":0,"x":-2,"y":0.88},{"s":"500th","p":3,"i":1,"x":-0.83,"y":0.88},{"s":"500th","p":3,"i":2,"x":-0.83,"y":9e-4},{"s":"500th","p":3,"i":3,"x":-0.8,"y":7e-5},{"s":"500th","p":3,"i":4,"x":-0.75,"y":6e-5},{"s":"500th","p":3,"i":5,"x":-0.7,"y":5e-5},{"s":"500th","p":3,"i":6,"x":-0.65,"y":4.5e-5},{"s":"500th","p":3,"i":7,"x":-0.6,"y":3.5e-5},{"s":"500th","p":3,"i":8,"x":-0.55,"y":2.5e-5},{"s":"500th","p":3,"i":9,"x":-0.5,"y":1.5e-5},{"s":"500th","p":3,"i":10,"x":-0.45,"y":1e-5},{"s":"500th","p":3,"i":11,"x":-0.4,"y":8e-6},{"s":"500th","p":3,"i":12,"x":-0.35,"y":5e-6},{"s":"500th","p":3,"i":13,"x":-0.3,"y":3.5e-6},{"s":"500th","p":3,"i":14,"x":-0.25,"y":2.5e-6},{"s":"500th","p":3,"i":15,"x":-0.2,"y":1.5e-6},{"s":"500th","p":3,"i":16,"x":-0.15,"y":8e-7},{"s":"500th","p":3,"i":17,"x":-0.1,"y":3e-7},{"s":"500th","p":3,"i":18,"x":-0.05,"y":1.5e-7},{"s":"500th","p":3,"i":19,"x":0,"y":5e-10},
{"s":"500th","p":4,"i":0,"x":0.53,"y":0.4},{"s":"500th","p":4,"i":1,"x":0.55,"y":0.07},{"s":"500th","p":4,"i":2,"x":0.6,"y":0.03},{"s":"500th","p":4,"i":3,"x":0.65,"y":0.015},{"s":"500th","p":4,"i":4,"x":0.7,"y":0.008},{"s":"500th","p":4,"i":5,"x":0.75,"y":0.005},{"s":"500th","p":4,"i":6,"x":0.8,"y":0.0035},{"s":"500th","p":4,"i":7,"x":0.85,"y":0.0025},{"s":"500th","p":4,"i":8,"x":0.9,"y":0.0022},{"s":"500th","p":4,"i":9,"x":0.95,"y":0.002},{"s":"500th","p":4,"i":10,"x":1.0,"y":0.0018},{"s":"500th","p":4,"i":11,"x":1.05,"y":0.0016},{"s":"500th","p":4,"i":12,"x":1.1,"y":0.0013},{"s":"500th","p":4,"i":13,"x":1.15,"y":0.001},{"s":"500th","p":4,"i":14,"x":1.2,"y":8e-4},{"s":"500th","p":4,"i":15,"x":1.25,"y":7e-4},{"s":"500th","p":4,"i":16,"x":1.3,"y":6e-4},{"s":"500th","p":4,"i":17,"x":1.35,"y":7e-4},{"s":"500th","p":4,"i":18,"x":1.4,"y":9e-4},{"s":"500th","p":4,"i":19,"x":1.45,"y":0.0012},{"s":"500th","p":4,"i":20,"x":1.5,"y":0.0016},{"s":"500th","p":4,"i":21,"x":1.55,"y":0.002},{"s":"500th","p":4,"i":22,"x":1.6,"y":0.0025},{"s":"500th","p":4,"i":23,"x":1.65,"y":0.002},{"s":"500th","p":4,"i":24,"x":1.7,"y":0.0013},{"s":"500th","p":4,"i":25,"x":1.75,"y":6e-4},{"s":"500th","p":4,"i":26,"x":1.8,"y":3e-4},{"s":"500th","p":4,"i":27,"x":1.85,"y":4e-4},{"s":"500th","p":4,"i":28,"x":1.9,"y":6e-4},{"s":"500th","p":4,"i":29,"x":1.95,"y":8e-4},{"s":"500th","p":4,"i":30,"x":2.0,"y":9e-4},{"s":"500th","p":4,"i":31,"x":2.0,"y":3e-4},
{"s":"4900th","p":5,"i":0,"x":-2,"y":0.88},{"s":"4900th","p":5,"i":1,"x":-0.76,"y":0.88},{"s":"4900th","p":5,"i":2,"x":-0.75,"y":0.3},{"s":"4900th","p":5,"i":3,"x":-0.7,"y":0.15},{"s":"4900th","p":5,"i":4,"x":-0.65,"y":0.1},{"s":"4900th","p":5,"i":5,"x":-0.6,"y":0.07},{"s":"4900th","p":5,"i":6,"x":-0.55,"y":0.045},{"s":"4900th","p":5,"i":7,"x":-0.5,"y":0.03},{"s":"4900th","p":5,"i":8,"x":-0.45,"y":0.022},{"s":"4900th","p":5,"i":9,"x":-0.4,"y":0.017},{"s":"4900th","p":5,"i":10,"x":-0.35,"y":0.013},{"s":"4900th","p":5,"i":11,"x":-0.3,"y":0.01},{"s":"4900th","p":5,"i":12,"x":-0.25,"y":0.007},{"s":"4900th","p":5,"i":13,"x":-0.2,"y":0.005},{"s":"4900th","p":5,"i":14,"x":-0.15,"y":0.0035},{"s":"4900th","p":5,"i":15,"x":-0.1,"y":0.002},{"s":"4900th","p":5,"i":16,"x":-0.05,"y":8e-4},{"s":"4900th","p":5,"i":17,"x":-0.02,"y":2e-4},{"s":"4900th","p":5,"i":18,"x":0,"y":1.5e-6},
{"s":"4900th","p":6,"i":0,"x":0.03,"y":1.5e-6},{"s":"4900th","p":6,"i":1,"x":0.03,"y":0.04},{"s":"4900th","p":6,"i":2,"x":0.75,"y":0.88},{"s":"4900th","p":6,"i":3,"x":0.8,"y":0.55},{"s":"4900th","p":6,"i":4,"x":0.85,"y":0.45},{"s":"4900th","p":6,"i":5,"x":0.9,"y":0.38},{"s":"4900th","p":6,"i":6,"x":0.95,"y":0.32},{"s":"4900th","p":6,"i":7,"x":1.0,"y":0.27},{"s":"4900th","p":6,"i":8,"x":1.05,"y":0.2},{"s":"4900th","p":6,"i":9,"x":1.1,"y":0.15},{"s":"4900th","p":6,"i":10,"x":1.15,"y":0.12},{"s":"4900th","p":6,"i":11,"x":1.2,"y":0.1},{"s":"4900th","p":6,"i":12,"x":1.25,"y":0.08},{"s":"4900th","p":6,"i":13,"x":1.3,"y":0.07},{"s":"4900th","p":6,"i":14,"x":1.35,"y":0.062},{"s":"4900th","p":6,"i":15,"x":1.4,"y":0.056},{"s":"4900th","p":6,"i":16,"x":1.45,"y":0.05},{"s":"4900th","p":6,"i":17,"x":1.5,"y":0.047},{"s":"4900th","p":6,"i":18,"x":1.55,"y":0.044},{"s":"4900th","p":6,"i":19,"x":1.6,"y":0.041},{"s":"4900th","p":6,"i":20,"x":1.65,"y":0.038},{"s":"4900th","p":6,"i":21,"x":1.7,"y":0.035},{"s":"4900th","p":6,"i":22,"x":1.75,"y":0.032},{"s":"4900th","p":6,"i":23,"x":1.8,"y":0.028},{"s":"4900th","p":6,"i":24,"x":1.85,"y":0.024},{"s":"4900th","p":6,"i":25,"x":1.9,"y":0.02},{"s":"4900th","p":6,"i":26,"x":1.95,"y":0.016},{"s":"4900th","p":6,"i":27,"x":2.0,"y":0.025},{"s":"4900th","p":6,"i":28,"x":2.0,"y":0.007},
{"s":"failure","p":7,"i":0,"x":-2.0,"y":0.9},{"s":"failure","p":7,"i":1,"x":-1.95,"y":0.9},{"s":"failure","p":7,"i":2,"x":-1.9,"y":0.9},{"s":"failure","p":7,"i":3,"x":-1.85,"y":0.9},{"s":"failure","p":7,"i":4,"x":-1.8,"y":0.9},{"s":"failure","p":7,"i":5,"x":-1.75,"y":0.9},{"s":"failure","p":7,"i":6,"x":-1.7,"y":0.9},{"s":"failure","p":7,"i":7,"x":-1.65,"y":0.9},{"s":"failure","p":7,"i":8,"x":-1.6,"y":0.9},{"s":"failure","p":7,"i":9,"x":-1.55,"y":0.9},{"s":"failure","p":7,"i":10,"x":-1.5,"y":0.9},{"s":"failure","p":7,"i":11,"x":-1.45,"y":0.9},{"s":"failure","p":7,"i":12,"x":-1.4,"y":0.9},{"s":"failure","p":7,"i":13,"x":-1.35,"y":0.9},{"s":"failure","p":7,"i":14,"x":-1.3,"y":0.9},{"s":"failure","p":7,"i":15,"x":-1.25,"y":0.9},{"s":"failure","p":7,"i":16,"x":-1.2,"y":0.89},{"s":"failure","p":7,"i":17,"x":-1.15,"y":0.89},{"s":"failure","p":7,"i":18,"x":-1.1,"y":0.89},{"s":"failure","p":7,"i":19,"x":-1.05,"y":0.89},{"s":"failure","p":7,"i":20,"x":-1.0,"y":0.88},{"s":"failure","p":7,"i":21,"x":-0.95,"y":0.88},{"s":"failure","p":7,"i":22,"x":-0.9,"y":0.87},{"s":"failure","p":7,"i":23,"x":-0.85,"y":0.86},{"s":"failure","p":7,"i":24,"x":-0.8,"y":0.85},{"s":"failure","p":7,"i":25,"x":-0.75,"y":0.83},{"s":"failure","p":7,"i":26,"x":-0.7,"y":0.8},{"s":"failure","p":7,"i":27,"x":-0.65,"y":0.78},{"s":"failure","p":7,"i":28,"x":-0.6,"y":0.75},{"s":"failure","p":7,"i":29,"x":-0.55,"y":0.71},{"s":"failure","p":7,"i":30,"x":-0.5,"y":0.67},{"s":"failure","p":7,"i":31,"x":-0.45,"y":0.62},{"s":"failure","p":7,"i":32,"x":-0.4,"y":0.56},{"s":"failure","p":7,"i":33,"x":-0.35,"y":0.5},{"s":"failure","p":7,"i":34,"x":-0.3,"y":0.43},{"s":"failure","p":7,"i":35,"x":-0.25,"y":0.35},{"s":"failure","p":7,"i":36,"x":-0.2,"y":0.27},{"s":"failure","p":7,"i":37,"x":-0.15,"y":0.19},{"s":"failure","p":7,"i":38,"x":-0.1,"y":0.11},{"s":"failure","p":7,"i":39,"x":-0.05,"y":0.05},{"s":"failure","p":7,"i":40,"x":0,"y":1e-4},{"s":"failure","p":7,"i":41,"x":0.05,"y":0.05},{"s":"failure","p":7,"i":42,"x":0.1,"y":0.1},{"s":"failure","p":7,"i":43,"x":0.15,"y":0.16},{"s":"failure","p":7,"i":44,"x":0.2,"y":0.23},{"s":"failure","p":7,"i":45,"x":0.25,"y":0.3},{"s":"failure","p":7,"i":46,"x":0.3,"y":0.37},{"s":"failure","p":7,"i":47,"x":0.35,"y":0.44},{"s":"failure","p":7,"i":48,"x":0.4,"y":0.5},{"s":"failure","p":7,"i":49,"x":0.45,"y":0.56},{"s":"failure","p":7,"i":50,"x":0.5,"y":0.62},{"s":"failure","p":7,"i":51,"x":0.55,"y":0.68},{"s":"failure","p":7,"i":52,"x":0.6,"y":0.73},{"s":"failure","p":7,"i":53,"x":0.65,"y":0.78},{"s":"failure","p":7,"i":54,"x":0.7,"y":0.83},{"s":"failure","p":7,"i":55,"x":0.75,"y":0.88},{"s":"failure","p":7,"i":56,"x":0.8,"y":0.93},{"s":"failure","p":7,"i":57,"x":0.85,"y":0.97},{"s":"failure","p":7,"i":58,"x":0.9,"y":1.01},{"s":"failure","p":7,"i":59,"x":0.95,"y":1.05},{"s":"failure","p":7,"i":60,"x":1.0,"y":1.09},{"s":"failure","p":7,"i":61,"x":1.05,"y":1.13},{"s":"failure","p":7,"i":62,"x":1.1,"y":1.17},{"s":"failure","p":7,"i":63,"x":1.15,"y":1.2},{"s":"failure","p":7,"i":64,"x":1.2,"y":1.24},{"s":"failure","p":7,"i":65,"x":1.25,"y":1.27},{"s":"failure","p":7,"i":66,"x":1.3,"y":1.3},{"s":"failure","p":7,"i":67,"x":1.35,"y":1.33},{"s":"failure","p":7,"i":68,"x":1.4,"y":1.36},{"s":"failure","p":7,"i":69,"x":1.45,"y":1.39},{"s":"failure","p":7,"i":70,"x":1.5,"y":1.42},{"s":"failure","p":7,"i":71,"x":1.55,"y":1.45},{"s":"failure","p":7,"i":72,"x":1.6,"y":1.48},{"s":"failure","p":7,"i":73,"x":1.65,"y":1.5},{"s":"failure","p":7,"i":74,"x":1.7,"y":1.53},{"s":"failure","p":7,"i":75,"x":1.75,"y":1.56},{"s":"failure","p":7,"i":76,"x":1.8,"y":1.58},{"s":"failure","p":7,"i":77,"x":1.85,"y":1.61},{"s":"failure","p":7,"i":78,"x":1.9,"y":1.63},{"s":"failure","p":7,"i":79,"x":1.95,"y":1.66},{"s":"failure","p":7,"i":80,"x":2.0,"y":1.68}
   ]},
   "mark": {"type": "line", "strokeWidth": 1},
   "encoding": {"detail": {"field": "p", "type": "nominal"}, "order": {"field": "i", "type": "quantitative"}}},
  {"data": {"name": "iv"},
   "mark": {"type": "point", "shape": "square", "filled": false, "size": 45, "strokeWidth": 1.2, "opacity": 1}},
  {"data": {"values": [{"s": "4900th", "x": -0.89, "y": 0.004, "t": "HRS 3"}, {"s": "500th", "x": -0.93, "y": 2e-6, "t": "HRS 2"}, {"s": "1st cycle", "x": -1.17, "y": 6.3e-9, "t": "HRS 1"}]},
   "mark": {"type": "text", "align": "center", "baseline": "middle", "fontSize": 11, "fontWeight": "bold"},
   "encoding": {"text": {"field": "t"}}}
 ]
},
{
 "title": {"text": "(e)", "offset": 10},
 "width": 198, "height": 146,
 "encoding": {
  "x": {"field": "x", "type": "quantitative", "scale": {"domain": [138, 312], "nice": false, "zero": false},
        "axis": {"title": "Temperature (K)", "titleY": 25, "values": [150,175,200,225,250,275,300], "labelExpr": "datum.value % 50 == 0 ? '' + datum.value : ''"}},
  "y": {"field": "y", "type": "quantitative", "scale": {"type": "log", "domain": [1000, 1e8], "nice": false},
        "axis": {"title": "HRS Resistance (Ω)", "titleX": -37, "values": [1000,10000,100000,1000000,10000000,100000000],
                 "labelExpr": "'10' + replace(replace(replace(replace(replace(replace(replace(replace(replace(replace(replace('' + round(log(datum.value) / LN10), '-', '⁻'), '0', '⁰'), '1', '¹'), '2', '²'), '3', '³'), '4', '⁴'), '5', '⁵'), '6', '⁶'), '7', '⁷'), '8', '⁸'), '9', '⁹')"}}
 },
 "layer": [
  {"data": {"name": "hrs", "values": [
{"s":"HRS 1","x":160,"y":2.6e7},{"s":"HRS 1","x":170,"y":2.4e7},{"s":"HRS 1","x":180,"y":2.5e7},{"s":"HRS 1","x":190,"y":2.6e7},{"s":"HRS 1","x":200,"y":2.5e7},{"s":"HRS 1","x":210,"y":2.4e7},{"s":"HRS 1","x":220,"y":2.5e7},{"s":"HRS 1","x":230,"y":2.4e7},{"s":"HRS 1","x":240,"y":2.5e7},{"s":"HRS 1","x":250,"y":2.1e7},{"s":"HRS 1","x":260,"y":2.2e7},{"s":"HRS 1","x":270,"y":2.1e7},{"s":"HRS 1","x":280,"y":2.3e7},{"s":"HRS 1","x":290,"y":2.3e7},
{"s":"HRS 2","x":160,"y":5.3e5},{"s":"HRS 2","x":170,"y":5.2e5},{"s":"HRS 2","x":180,"y":5.3e5},{"s":"HRS 2","x":190,"y":5.0e5},{"s":"HRS 2","x":200,"y":4.8e5},{"s":"HRS 2","x":210,"y":4.7e5},{"s":"HRS 2","x":220,"y":5.1e5},{"s":"HRS 2","x":230,"y":5.3e5},{"s":"HRS 2","x":240,"y":5.2e5},{"s":"HRS 2","x":250,"y":5.8e5},{"s":"HRS 2","x":260,"y":5.4e5},{"s":"HRS 2","x":270,"y":5.8e5},{"s":"HRS 2","x":280,"y":5.1e5},{"s":"HRS 2","x":290,"y":5.2e5},
{"s":"HRS 3","x":160,"y":1.65e4},{"s":"HRS 3","x":170,"y":1.65e4},{"s":"HRS 3","x":180,"y":1.66e4},{"s":"HRS 3","x":190,"y":1.64e4},{"s":"HRS 3","x":200,"y":1.66e4},{"s":"HRS 3","x":210,"y":1.67e4},{"s":"HRS 3","x":220,"y":1.66e4},{"s":"HRS 3","x":230,"y":1.65e4},{"s":"HRS 3","x":240,"y":1.66e4},{"s":"HRS 3","x":250,"y":1.67e4},{"s":"HRS 3","x":260,"y":1.66e4},{"s":"HRS 3","x":270,"y":1.75e4},{"s":"HRS 3","x":280,"y":1.55e4},{"s":"HRS 3","x":290,"y":1.75e4}
   ]},
   "mark": {"type": "line", "strokeWidth": 1},
   "encoding": {"color": {"field": "s", "type": "nominal", "scale": {"domain": ["HRS 1", "HRS 2", "HRS 3"], "range": ["#303030", "#2b2bff", "#a3a326"]}, "legend": null}}},
  {"data": {"name": "hrs"},
   "mark": {"type": "point", "shape": "square", "filled": true, "fill": "white", "size": 50, "strokeWidth": 1.3, "opacity": 1},
   "encoding": {"stroke": {"field": "s", "type": "nominal", "scale": {"domain": ["HRS 1", "HRS 2", "HRS 3"], "range": ["#303030", "#2b2bff", "#a3a326"]}, "legend": null}}},
  {"data": {"values": [{"x": 214.5, "y": 6.3e7, "t": "HRS 1"}, {"x": 214.5, "y": 1.45e6, "t": "HRS 2"}, {"x": 214.5, "y": 4e4, "t": "HRS 3"}]},
   "mark": {"type": "text", "align": "center", "baseline": "middle", "fontSize": 12, "color": "#111111"},
   "encoding": {"text": {"field": "t"}}}
 ]
},
{
 "title": {"text": "(f)", "offset": 10},
 "width": 204, "height": 146,
 "encoding": {
  "x": {"field": "x", "type": "quantitative", "scale": {"domain": [180, 280], "nice": false, "zero": false},
        "axis": {"title": "Temperature (K)", "titleY": 25, "values": [180,190,200,210,220,230,240,250,260,270,280], "labelExpr": "datum.value % 20 == 0 ? '' + datum.value : ''"}},
  "y": {"field": "y", "type": "quantitative", "scale": {"domain": [0.975, 1.225], "nice": false, "zero": false},
        "axis": {"title": "Normalized LRS", "titleX": -46, "values": [1.0,1.025,1.05,1.075,1.1,1.125,1.15,1.175,1.2], "labelExpr": "round(datum.value*1000) % 50 == 0 ? format(datum.value, '.2f') : ''"}}
 },
 "layer": [
  {"encoding": {"color": {"field": "s", "type": "nominal", "scale": {"domain": ["Experiment data", "Fitting result"], "range": ["#111111", "#ff0000"]},
     "legend": {"orient": "none", "legendX": 14, "legendY": 7, "title": null, "labelFontSize": 11, "clipHeight": 11.6, "rowPadding": 1, "symbolSize": 625, "labelOffset": 12,
       "encode": {"symbols": {"update": {
         "shape": {"signal": "datum.value == 'Fitting result' ? 'M-1,0H1' : 'M-1,0H1M-0.36,0A0.36,0.36,0,1,0,0.36,0A0.36,0.36,0,1,0,-0.36,0Z'"},
         "fill": {"signal": "datum.value == 'Fitting result' ? 'transparent' : '#333333'"},
         "strokeWidth": {"signal": "datum.value == 'Fitting result' ? 2 : 1"}}}}}}},
   "layer": [
    {"data": {"values": [{"s":"Experiment data","x":190,"y":1.0},{"s":"Experiment data","x":200,"y":1.027},{"s":"Experiment data","x":210,"y":1.055},{"s":"Experiment data","x":220,"y":1.076},{"s":"Experiment data","x":230,"y":1.094},{"s":"Experiment data","x":240,"y":1.122},{"s":"Experiment data","x":250,"y":1.143},{"s":"Experiment data","x":260,"y":1.179},{"s":"Experiment data","x":270,"y":1.207}]},
     "mark": {"type": "line", "strokeWidth": 1}},
    {"data": {"values": [{"s":"Fitting result","x":190,"y":0.998},{"s":"Fitting result","x":270,"y":1.2025}]},
     "mark": {"type": "line", "strokeWidth": 2}}
   ]},
  {"data": {"values": [{"x":190,"y":1.0},{"x":200,"y":1.027},{"x":210,"y":1.055},{"x":220,"y":1.076},{"x":230,"y":1.094},{"x":240,"y":1.122},{"x":250,"y":1.143},{"x":260,"y":1.179},{"x":270,"y":1.207}]},
   "mark": {"type": "point", "shape": "circle", "filled": true, "size": 110, "stroke": "#000000", "strokeWidth": 0.6, "opacity": 1,
            "fill": {"gradient": "radial", "x1": 0.5, "y1": 0.5, "x2": 0.5, "y2": 0.5, "r1": 0, "r2": 0.55, "stops": [{"offset": 0, "color": "#d8d8d8"}, {"offset": 0.45, "color": "#555555"}, {"offset": 1, "color": "#000000"}]}}},
  {"data": {"values": [{"x":190,"y":0.998},{"x":270,"y":1.2025}]},
   "mark": {"type": "line", "color": "#ff0000", "strokeWidth": 2}},
  {"data": {"values": [{"x": 226, "y": 1.059, "t": "α =0.00252/ K"}]},
   "mark": {"type": "text", "align": "left", "baseline": "middle", "fontSize": 15, "fontWeight": "bold", "font": "Liberation Serif", "color": "#111111"},
   "encoding": {"text": {"field": "t"}}}
 ]
}
], "spacing": 61, "bounds": "flush", "resolve": {"scale": {"color": "independent", "stroke": "independent"}, "legend": {"color": "independent", "stroke": "independent"}}}
]
}
